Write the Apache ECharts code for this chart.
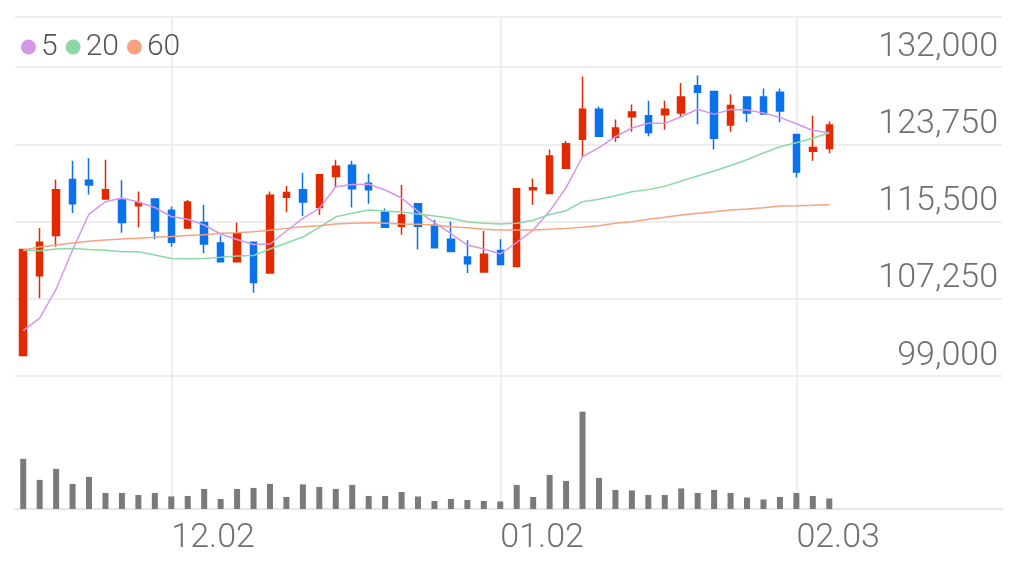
<!DOCTYPE html>
<html>
<head>
<meta charset="utf-8">
<title>일봉 차트</title>
<style>
  html, body { margin: 0; padding: 0; background: #fff; }
  #chart { width: 1022px; height: 572px; }
</style>
<script src="https://cdn.jsdelivr.net/npm/echarts@6/dist/echarts.min.js"></script>
</head>
<body>
<div id="chart"></div>
<script>
// 거래일 (2024.11.19 ~ 2025.02.05)
const dates = [
  '11.19', '11.20', '11.21', '11.22', '11.25', '11.26', '11.27', '11.28', '11.29',
  '12.02', '12.03', '12.04', '12.05', '12.06', '12.09', '12.10', '12.11', '12.12', '12.13',
  '12.16', '12.17', '12.18', '12.19', '12.20', '12.23', '12.24', '12.26', '12.27', '12.30',
  '01.02', '01.03', '01.06', '01.07', '01.08', '01.09', '01.10', '01.13', '01.14', '01.15',
  '01.16', '01.17', '01.20', '01.21', '01.22', '01.23', '01.24', '01.31',
  '02.03', '02.04', '02.05'
]
// 오른쪽 빈 영역 (데이터 없음)
const padDates = ['02.06', '02.07', '02.10', '02.11', '02.12', '02.13', '02.14', '02.17', '02.18', '02.19']

// [시가, 종가, 저가, 고가]
const candles = [
  [101200, 112500, 101200, 112500],
  [109700, 113300, 107300, 114800],
  [114000, 118900, 112800, 120000],
  [120000, 117400, 116400, 122000],
  [119900, 119400, 118400, 122300],
  [117900, 118900, 117900, 122100],
  [117800, 115400, 114300, 119900],
  [117200, 117500, 114900, 118700],
  [117900, 114500, 113600, 118000],
  [116700, 113300, 112800, 117100],
  [114800, 117600, 114700, 117800],
  [115400, 113100, 112100, 117300],
  [113200, 111200, 111200, 114000],
  [111200, 114200, 111200, 115400],
  [113300, 109000, 107900, 113300],
  [110000, 118300, 110000, 118700],
  [118100, 118600, 116500, 119300],
  [118900, 117600, 116100, 120700],
  [117000, 120500, 116200, 120500],
  [120300, 121400, 119200, 122100],
  [121500, 119000, 117000, 122000],
  [119600, 118900, 117400, 120600],
  [116500, 114900, 114900, 116900],
  [115000, 116200, 114100, 119400],
  [117400, 115000, 112500, 117400],
  [115100, 112700, 112700, 115700],
  [113600, 112300, 112300, 115500],
  [111700, 111000, 110000, 113500],
  [110100, 112000, 110100, 114500],
  [112400, 110900, 110900, 113600],
  [110700, 119000, 110700, 119000],
  [118900, 119100, 117300, 120100],
  [118500, 122500, 118500, 123200],
  [121200, 123800, 121200, 124100],
  [124300, 127500, 122400, 131000],
  [127500, 124600, 124600, 127800],
  [124500, 125500, 124000, 126400],
  [126700, 127200, 125100, 128000],
  [126800, 125000, 124600, 128400],
  [126900, 127500, 125300, 128400],
  [127100, 128800, 126600, 130300],
  [130000, 129300, 125900, 131100],
  [129400, 124400, 123200, 129400],
  [125800, 127900, 125100, 129100],
  [128800, 127100, 126100, 128800],
  [128800, 127000, 126900, 129700],
  [129300, 127300, 126100, 129700],
  [124800, 120800, 120200, 124800],
  [123000, 123400, 122000, 126800],
  [123300, 125800, 122800, 126200]
]

// 거래량
const volumes = [
  500000, 290000, 400000, 250000, 320000, 160000, 160000, 140000, 160000, 125000,
  130000, 200000, 100000, 200000, 210000, 250000, 120000, 245000, 220000, 200000,
  240000, 130000, 130000, 170000, 125000, 80000, 100000, 90000, 80000, 75000,
  240000, 120000, 340000, 280000, 970000, 310000, 190000, 185000, 140000, 140000,
  205000, 160000, 190000, 160000, 115000, 95000, 120000, 160000, 130000, 105000
]

// 이동평균선
const ma5 = [
  103840, 105190, 108290, 112460, 116300, 117620, 118010, 117580, 117000, 116040,
  115740, 115130, 114170, 113580, 113040, 113100, 114490, 115840, 116910, 119220,
  119450, 119480, 118870, 118010, 116590, 115390, 114200, 112990, 112560, 112030,
  113260, 114590, 116620, 119130, 122420, 123400, 124560, 125490, 125990, 125990,
  126690, 127490, 126950, 127480, 127410, 127090, 126630, 125940, 125220, 124980
]
const ma20 = [
  112430, 112370, 112560, 112620, 112510, 112430, 112280, 112270, 111920, 111550,
  111520, 111550, 111680, 111820, 111870, 112560, 113200, 113850, 114880, 116010,
  116380, 116730, 116620, 116520, 116300, 116090, 115840, 115480, 115310, 115230,
  115310, 115630, 116250, 116650, 117620, 117870, 118250, 118680, 118910, 119260,
  119830, 120360, 120890, 121480, 122100, 122820, 123490, 123920, 124390, 124980
]
const ma60 = [
  112430, 112780, 112990, 113200, 113400, 113530, 113630, 113710, 113810, 113900,
  114010, 114090, 114240, 114300, 114410, 114560, 114770, 114950, 115050, 115230,
  115310, 115360, 115310, 115230, 115200, 115130, 114950, 114840, 114670, 114590,
  114590, 114590, 114670, 114770, 114880, 115050, 115310, 115480, 115740, 115950,
  116200, 116380, 116550, 116730, 116840, 116970, 117160, 117190, 117230, 117300
]

const priceTicks = [99000, 107250, 115500, 123750, 132000]
const labelDates = ['12.02', '01.02', '02.03']

const upColor = '#e22a00' // 상승
const downColor = '#0b72ec' // 하락
const gridColor = '#eeeeee'
const textColor = '#707070'
const fontFamily = 'Roboto, "Noto Sans", sans-serif'

const categories = dates.concat(padDates)
const showDate = (index, value) => labelDates.indexOf(value) >= 0

const chart = echarts.init(document.getElementById('chart'))
chart.setOption({
  animation: false,
  legend: {
    data: ['5', '20', '60'],
    left: 16,
    top: 27,
    icon: 'circle',
    itemWidth: 15,
    itemHeight: 15,
    itemGap: 8,
    textStyle: { fontSize: 30, color: '#555', fontFamily, fontWeight: 300 }
  },
  grid: [
    { left: 15, right: 20, top: 17, bottom: 196 },
    { left: 15, right: 20, top: 376, bottom: 63 }
  ],
  xAxis: [
    {
      type: 'category',
      gridIndex: 0,
      data: categories,
      boundaryGap: true,
      axisLine: { show: false },
      axisTick: { show: false },
      axisLabel: { show: false },
      splitLine: {
        show: true,
        alignWithLabel: true,
        interval: showDate,
        lineStyle: { color: gridColor, width: 2 }
      }
    },
    {
      type: 'category',
      gridIndex: 1,
      data: categories,
      boundaryGap: true,
      axisLine: { show: true, lineStyle: { color: '#e6e6e6', width: 2 } },
      axisTick: { show: false },
      axisLabel: {
        interval: showDate,
        align: 'left',
        margin: 12,
        fontSize: 34,
        fontWeight: 300,
        fontFamily,
        color: textColor
      },
      splitLine: {
        show: true,
        alignWithLabel: true,
        interval: showDate,
        lineStyle: { color: gridColor, width: 2 }
      }
    }
  ],
  yAxis: [
    {
      type: 'value',
      gridIndex: 0,
      position: 'right',
      scale: true,
      min: priceTicks[0],
      max: 137350,
      interval: priceTicks[1] - priceTicks[0],
      axisLine: { show: false },
      axisTick: { show: false },
      axisLabel: {
        inside: true,
        margin: 4,
        verticalAlign: 'bottom',
        padding: [0, 0, 3, 0],
        fontSize: 34,
        fontWeight: 300,
        fontFamily,
        color: textColor,
        formatter: v => (priceTicks.indexOf(v) >= 0 ? v.toLocaleString('en-US') : '')
      },
      splitLine: { lineStyle: { color: gridColor, width: 2 } }
    },
    {
      type: 'value',
      gridIndex: 1,
      min: 0,
      max: 1325000,
      show: false,
      splitLine: { show: false }
    }
  ],
  series: [
    {
      name: '일봉',
      type: 'candlestick',
      xAxisIndex: 0,
      yAxisIndex: 0,
      barWidth: 7,
      data: candles,
      itemStyle: {
        color: upColor,
        color0: downColor,
        borderColor: upColor,
        borderColor0: downColor,
        borderWidth: 1.5
      }
    },
    {
      name: '5',
      type: 'line',
      data: ma5,
      symbol: 'none',
      color: '#d596ea',
      lineStyle: { width: 1.5 },
      z: 3
    },
    {
      name: '20',
      type: 'line',
      data: ma20,
      symbol: 'none',
      color: '#8cd9a6',
      lineStyle: { width: 1.5 },
      z: 3
    },
    {
      name: '60',
      type: 'line',
      data: ma60,
      symbol: 'none',
      color: '#f6a27f',
      lineStyle: { width: 1.5 },
      z: 3
    },
    {
      name: '거래량',
      type: 'bar',
      xAxisIndex: 1,
      yAxisIndex: 1,
      barWidth: 6,
      data: volumes,
      itemStyle: { color: '#7a7a7a' }
    }
  ]
})
</script>
</body>
</html>
